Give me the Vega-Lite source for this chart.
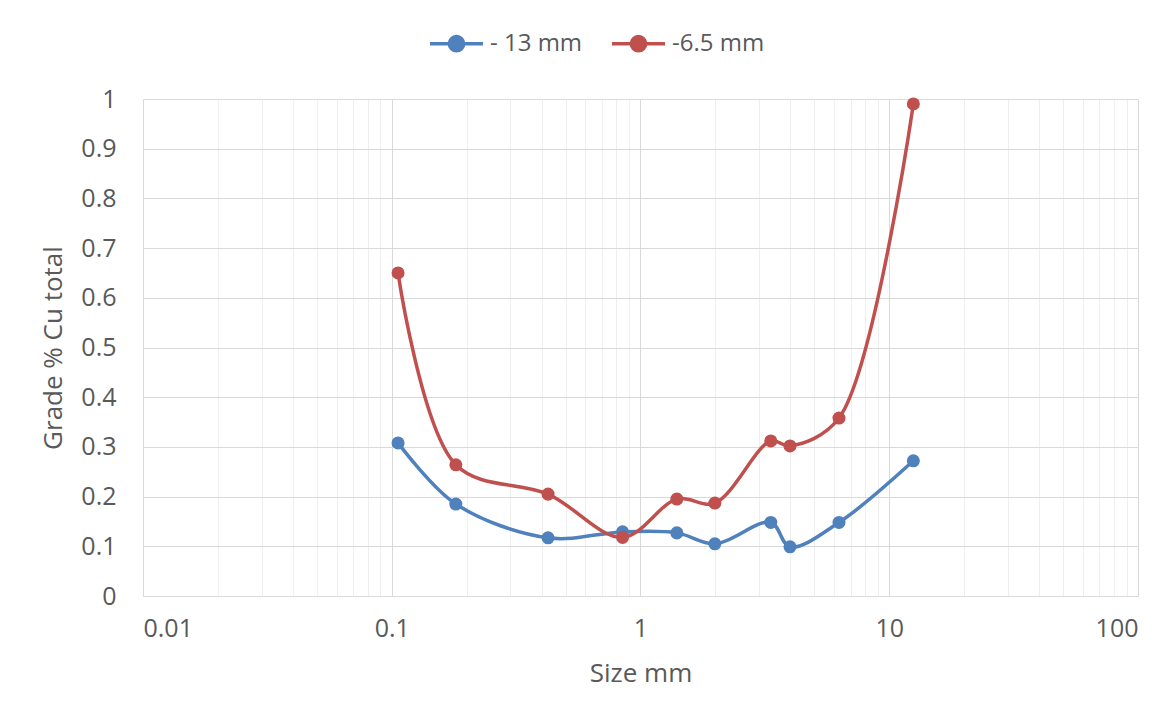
{
  "$schema": "https://vega.github.io/schema/vega-lite/v6.json",
  "width": 995,
  "height": 497,
  "autosize": "none",
  "padding": {"left": 143, "top": 99, "right": 33, "bottom": 110},
  "background": "white",
  "config": {
    "view": {"stroke": null},
    "font": "Open Sans",
    "axis": {"labelFont": "Open Sans", "titleFont": "Open Sans", "labelColor": "#595959", "titleColor": "#595959", "labelFontSize": 25, "titleFontSize": 26, "titleFontWeight": "normal", "ticks": false, "domainColor": "#d9d9d9", "gridColor": "#d9d9d9", "gridWidth": 1}
  },
  "data": {
    "values": [
      {"size": 0.106, "grade": 0.308, "series": "- 13 mm"},
      {"size": 0.181, "grade": 0.185, "series": "- 13 mm"},
      {"size": 0.425, "grade": 0.117, "series": "- 13 mm"},
      {"size": 0.847, "grade": 0.129, "series": "- 13 mm"},
      {"size": 1.4, "grade": 0.127, "series": "- 13 mm"},
      {"size": 1.99, "grade": 0.105, "series": "- 13 mm"},
      {"size": 3.34, "grade": 0.148, "series": "- 13 mm"},
      {"size": 3.99, "grade": 0.099, "series": "- 13 mm"},
      {"size": 6.28, "grade": 0.148, "series": "- 13 mm"},
      {"size": 12.5, "grade": 0.272, "series": "- 13 mm"},
      {"size": 0.106, "grade": 0.65, "series": "-6.5 mm"},
      {"size": 0.181, "grade": 0.264, "series": "-6.5 mm"},
      {"size": 0.425, "grade": 0.205, "series": "-6.5 mm"},
      {"size": 0.847, "grade": 0.118, "series": "-6.5 mm"},
      {"size": 1.4, "grade": 0.195, "series": "-6.5 mm"},
      {"size": 1.99, "grade": 0.187, "series": "-6.5 mm"},
      {"size": 3.34, "grade": 0.312, "series": "-6.5 mm"},
      {"size": 3.99, "grade": 0.302, "series": "-6.5 mm"},
      {"size": 6.28, "grade": 0.358, "series": "-6.5 mm"},
      {"size": 12.5, "grade": 0.99, "series": "-6.5 mm"}
    ]
  },
  "layer": [
    {
      "mark": {"type": "line", "interpolate": "catmull-rom", "strokeWidth": 3.5},
      "encoding": {
        "x": {"field": "size", "type": "quantitative", "scale": {"type": "log", "domain": [0.01, 100]},
          "axis": {"values": [0.01,0.02,0.03,0.04,0.05,0.06,0.07,0.08,0.09,0.1,0.2,0.3,0.4,0.5,0.6,0.7,0.8,0.9,1,2,3,4,5,6,7,8,9,10,20,30,40,50,60,70,80,90,100],
            "format": "~g", "title": "Size mm", "labelPadding": 20, "titleY": 77, "titleBaseline": "middle",
            "labelExpr": "abs(log(datum.value)/LN10 - round(log(datum.value)/LN10)) < 0.000001 ? datum.label : ''",
            "gridColor": {"condition": {"test": "abs(log(datum.value)/LN10 - round(log(datum.value)/LN10)) < 0.000001", "value": "#d9d9d9"}, "value": "#efefef"},
            "labelOverlap": false, "labelBound": false}},
        "y": {"field": "grade", "type": "quantitative", "scale": {"domain": [0, 1]},
          "axis": {"values": [0,0.1,0.2,0.3,0.4,0.5,0.6,0.7,0.8,0.9,1], "format": "~g", "title": "Grade % Cu total", "labelPadding": 27, "titleX": -90, "titleBaseline": "middle"}},
        "color": {"field": "series", "type": "nominal",
          "scale": {"domain": ["- 13 mm", "-6.5 mm"], "range": ["#4f81bd", "#c0504d"]},
          "legend": {"title": null, "orient": "none", "direction": "horizontal", "legendX": 285, "legendY": -84,
            "symbolType": "M-1,0H1M-0.27,0A0.27,0.27,0,1,1,0.27,0A0.27,0.27,0,1,1,-0.27,0Z",
            "symbolSize": 2809, "symbolStrokeWidth": 3.5, "labelFontSize": 24, "labelColor": "#595959", "labelFont": "Open Sans", "labelOffset": 5, "columnPadding": 22,
            "encode": {"symbols": {"update": {"fill": {"scale": "color", "field": "value"}, "stroke": {"scale": "color", "field": "value"}, "fillOpacity": {"value": 1}}}}}},
        "detail": {"field": "series"}
      }
    },
    {
      "mark": {"type": "point", "filled": true, "opacity": 1, "size": 170},
      "encoding": {
        "x": {"field": "size", "type": "quantitative", "scale": {"type": "log", "domain": [0.01, 100]}},
        "y": {"field": "grade", "type": "quantitative", "scale": {"domain": [0, 1]}},
        "color": {"field": "series", "type": "nominal"}
      }
    }
  ]
}
